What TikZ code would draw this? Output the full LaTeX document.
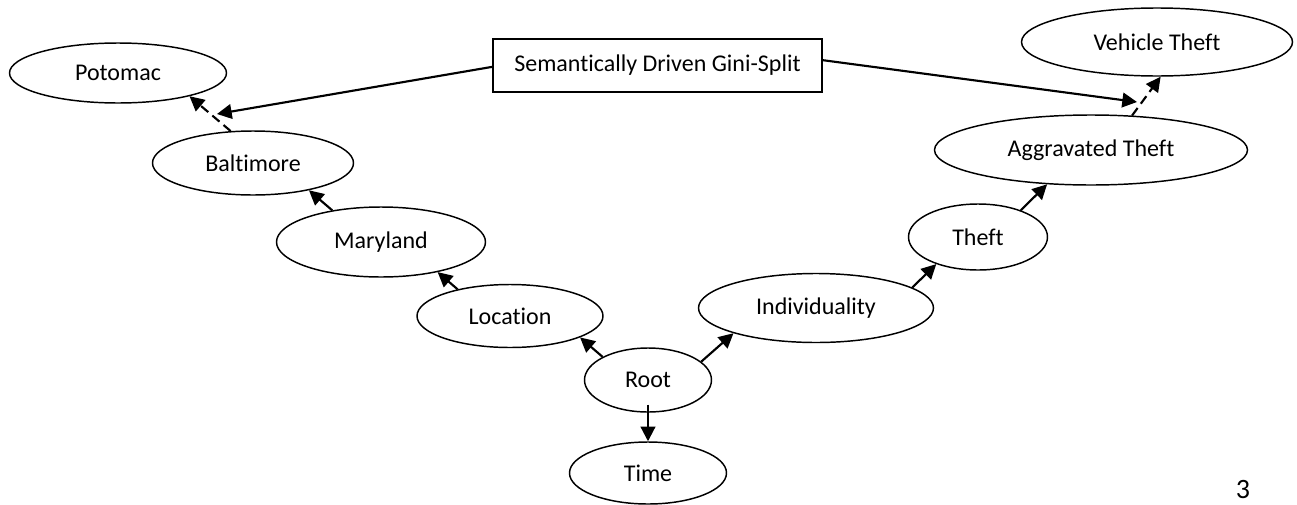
\documentclass[tikz,border=0pt]{standalone}
\usepackage{fontspec}
\setmainfont{Carlito}[Ligatures={NoCommon}]
\usetikzlibrary{arrows.meta,shapes.geometric}
\newdimen\pxu \pxu=0.75pt
\begin{document}
\begin{tikzpicture}[x=0.75pt,y=-0.75pt,
  every node/.style={font=\fontsize{18}{21.6}\selectfont, inner sep=0pt},
  ell/.style={ellipse, draw, line width=1.1pt},
  boxnode/.style={rectangle, draw, line width=1.1pt},
  conn/.style={line width=1.6pt, -{Triangle[length=11pt,width=11pt]}},
  dconn/.style={conn, dash pattern=on 7pt off 4pt}]
\useasboundingbox (0,0) rectangle (1297,504);
\node[ell, minimum width=217\pxu, minimum height=60\pxu] (potomac) at (118,73) {Potomac};
\node[ell, minimum width=201\pxu, minimum height=64\pxu] (baltimore) at (253,163) {Baltimore};
\node[ell, minimum width=209\pxu, minimum height=70\pxu] (maryland) at (381,242) {Maryland};
\node[ell, minimum width=186\pxu, minimum height=63\pxu] (location) at (510,316) {Location};
\node[ell, minimum width=127\pxu, minimum height=64\pxu] (root) at (648,380) {Root};
\node[ell, minimum width=157\pxu, minimum height=62\pxu] (time) at (648,473) {Time};
\node[ell, minimum width=235\pxu, minimum height=69\pxu] (indiv) at (816,308) {Individuality};
\node[ell, minimum width=139\pxu, minimum height=66\pxu] (theft) at (978,237) {Theft};
\node[ell, minimum width=313\pxu, minimum height=70\pxu] (aggr) at (1091,150) {Aggravated Theft};
\node[ell, minimum width=271\pxu, minimum height=68\pxu] (vehicle) at (1157,42) {Vehicle Theft};
\node[boxnode, minimum width=329\pxu, minimum height=53\pxu] (split) at (657.5,65.5) {Semantically Driven Gini-Split};
\node[font=\fontsize{21}{25}\selectfont] (pagenum) at (1243,490) {3};
\coordinate (lefttip) at (217,114);
\coordinate (righttip) at (1137,102);
% connectors
\draw[conn] (root.153.4) -- (location.-17.9);
\draw[conn] (location.153) -- (maryland.-28.5);
\draw[conn] (maryland.147.5) -- (baltimore.-26);
\draw[dconn] (baltimore.125) -- (potomac.-18.7);
\draw[conn] (root.19.8) -- (indiv.-163.4);
\draw[conn] (indiv.12.1) -- (theft.-147);
\draw[conn] (theft.32.7) -- (aggr.-142);
\draw[dconn] (aggr.40.6) -- (vehicle.-84.6);
\draw[conn, shorten <=-6pt] (root.south) -- (time.north);
\draw[conn] ([yshift=-1pt]split.west) -- (lefttip);
\draw[conn] ([yshift=4pt]split.east) -- (righttip);
\end{tikzpicture}
\end{document}
